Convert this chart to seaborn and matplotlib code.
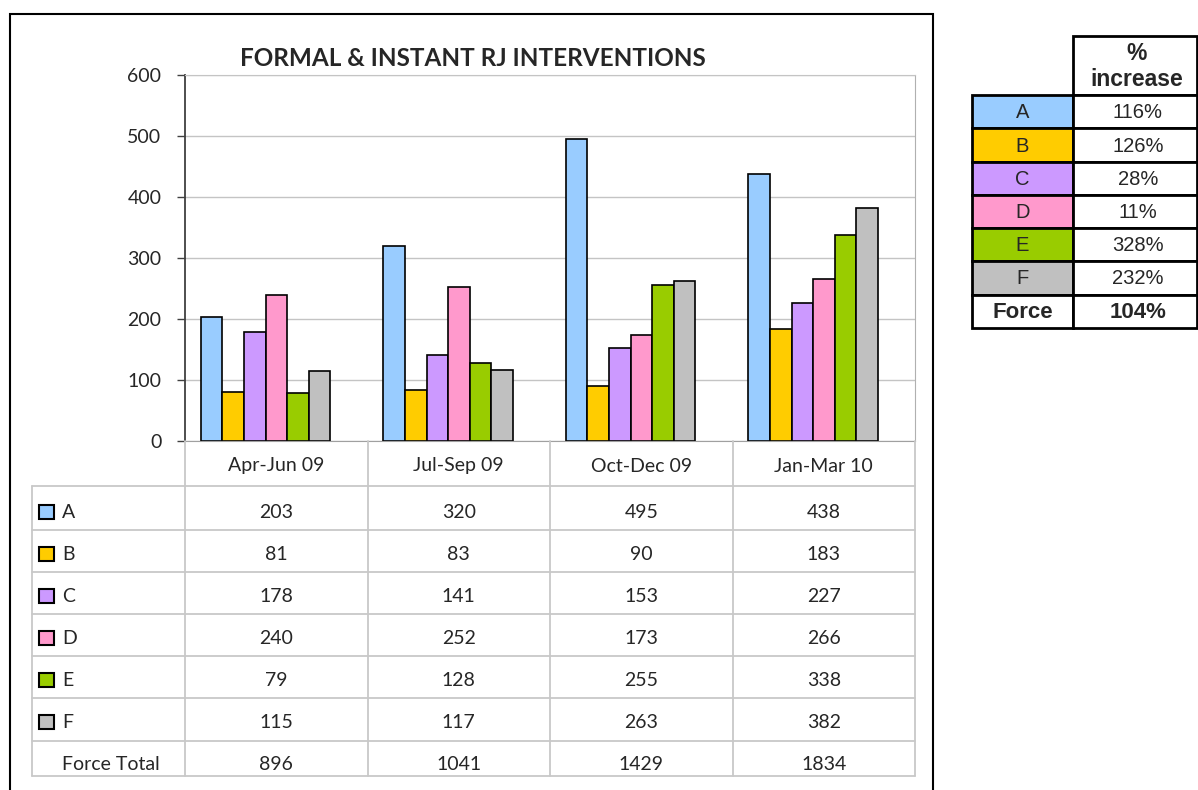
import numpy as np
import pandas as pd
import matplotlib
matplotlib.use("Agg")
import matplotlib.pyplot as plt
import matplotlib.transforms as mtransforms
from matplotlib.lines import Line2D
from matplotlib.patches import Rectangle
import seaborn as sns

# ---- data ----
quarters = ["Apr-Jun 09", "Jul-Sep 09", "Oct-Dec 09", "Jan-Mar 10"]
series = ["A", "B", "C", "D", "E", "F"]
vals_A = [203, 320, 495, 438]
vals_B = [81, 83, 90, 183]
vals_C = [178, 141, 153, 227]
vals_D = [240, 252, 173, 266]
vals_E = [79, 128, 255, 338]
vals_F = [115, 117, 263, 382]
force_total = [896, 1041, 1429, 1834]
pct_increase = ["116%", "126%", "28%", "11%", "328%", "232%"]
force_increase = "104%"
colors = ["#99CCFF", "#FFCC00", "#CC99FF", "#FF99CC", "#99CC00", "#C0C0C0"]

all_vals = [vals_A, vals_B, vals_C, vals_D, vals_E, vals_F]
df = pd.DataFrame([
    {"quarter": q, "series": s, "value": v}
    for s, vs in zip(series, all_vals) for q, v in zip(quarters, vs)
])

W, H = 1198, 790
FONT = "Lato"
SHIFT = 0.058  # bar groups sit a little left of the category centre


def fx(px):
    return px / W


def fy(py):
    return 1 - py / H


sns.set_style("white")
plt.rcParams["font.family"] = [FONT, "DejaVu Sans"]

fig = plt.figure(figsize=(W / 100, H / 100), dpi=100)
ax = fig.add_axes([fx(185), fy(441), fx(915) - fx(185), (441 - 75) / H])

sns.barplot(data=df, x="quarter", y="value", hue="series", palette=colors,
            saturation=1, edgecolor="black", linewidth=1.2, width=0.71, gap=0,
            errorbar=None, legend=False, ax=ax)

ax.set_xlim(-0.5 + SHIFT, 3.5 + SHIFT)
ax.set_ylim(0, 600)
ax.set_yticks(range(0, 601, 100))
ax.set_xticks([])
ax.set_xlabel("")
ax.set_ylabel("")
ax.yaxis.grid(True, color="#C4C4C4", lw=1)
ax.set_axisbelow(True)
ax.tick_params(axis="y", length=6, width=1, color="#404040", labelsize=14,
               pad=11, left=True, direction="out")
for lab in ax.get_yticklabels():
    lab.set_fontfamily(FONT)
ax.spines["left"].set_color("#404040")
ax.spines["left"].set_linewidth(1.3)
ax.spines["bottom"].set_color("#A0A0A0")
ax.spines["top"].set_color("#C4C4C4")
ax.spines["right"].set_color("#B0B0B0")
for sp in ax.spines.values():
    sp.set_visible(True)

fig.text(fx(473), fy(58), "FORMAL & INSTANT RJ INTERVENTIONS", ha="center",
         va="center", fontsize=17.5, fontweight="bold", family=FONT)

# ---- data table under the chart ----
blend = mtransforms.blended_transform_factory(ax.transData, fig.transFigure)
grid_c = "#C8C8C8"
row_lines = [486, 530, 572, 614, 656, 698, 741, 776]
for y in row_lines:
    fig.add_artist(Line2D([fx(32), fx(915)], [fy(y), fy(y)], color=grid_c,
                          lw=1.3, transform=fig.transFigure))
fig.add_artist(Line2D([fx(32), fx(32)], [fy(486), fy(776)], color=grid_c,
                      lw=1.3, transform=fig.transFigure))
for xb in np.arange(-0.5, len(quarters), 1.0) + SHIFT:
    fig.add_artist(Line2D([xb, xb], [fy(441), fy(776)], color=grid_c,
                          lw=1.3, transform=blend))

for i, q in enumerate(quarters):
    fig.text(i + SHIFT, fy(466), q, ha="center", va="center", fontsize=14,
             family=FONT, transform=blend)

row_centers = [512, 554, 596, 638, 680, 722, 765]
row_labels = series + ["Force Total"]
row_vals = all_vals + [force_total]
for r, (lab, vs, yc) in enumerate(zip(row_labels, row_vals, row_centers)):
    if r < len(series):
        fig.add_artist(Rectangle((fx(39), fy(yc + 7)), 15 / W, 14 / H,
                                 facecolor=colors[r], edgecolor="black",
                                 lw=1.5, transform=fig.transFigure))
    fig.text(fx(62), fy(yc), lab, ha="left", va="center", fontsize=14,
             family=FONT)
    for i, v in enumerate(vs):
        fig.text(i + SHIFT, fy(yc), str(v), ha="center", va="center",
                 fontsize=14, family=FONT, transform=blend)

# ---- outer chart frame ----
fig.add_artist(Rectangle((fx(10), fy(900)), fx(933) - fx(10), (900 - 14) / H,
                         fill=False, edgecolor="black", lw=1.5,
                         transform=fig.transFigure))

# ---- % increase table ----
AR = "Liberation Sans"
c0, c1, c2 = 972, 1073, 1197
fig.add_artist(Rectangle((fx(c1), fy(95)), fx(c2) - fx(c1), (95 - 36) / H,
                         fill=False, edgecolor="black", lw=2,
                         transform=fig.transFigure))
fig.text(fx(1137), fy(54), "%", ha="center", va="center", fontsize=16.5,
         fontweight="bold", family=AR)
fig.text(fx(1137), fy(80), "increase", ha="center", va="center",
         fontsize=16.5, fontweight="bold", family=AR)
rt_rows = [95, 128, 162, 195, 228, 261, 295, 328]
rt_labels = series + ["Force"]
rt_vals = pct_increase + [force_increase]
for r in range(len(rt_labels)):
    top, bot = rt_rows[r], rt_rows[r + 1]
    face = colors[r] if r < len(series) else "white"
    fig.add_artist(Rectangle((fx(c0), fy(bot)), fx(c1) - fx(c0), (bot - top) / H,
                             facecolor=face, edgecolor="black", lw=2,
                             transform=fig.transFigure))
    fig.add_artist(Rectangle((fx(c1), fy(bot)), fx(c2) - fx(c1), (bot - top) / H,
                             facecolor="white", edgecolor="black", lw=2,
                             transform=fig.transFigure))
    bold = "bold" if r == len(series) else "normal"
    ym = (top + bot) / 2 + 1
    fs = 16 if r == len(series) else 14.5
    fig.text(fx((c0 + c1) / 2), fy(ym), rt_labels[r], ha="center", va="center",
             fontsize=fs, fontweight=bold, family=AR)
    fig.text(fx(1138), fy(ym), rt_vals[r], ha="center", va="center",
             fontsize=fs, fontweight=bold, family=AR)

fig.savefig("out.png", dpi=100, facecolor="white")
